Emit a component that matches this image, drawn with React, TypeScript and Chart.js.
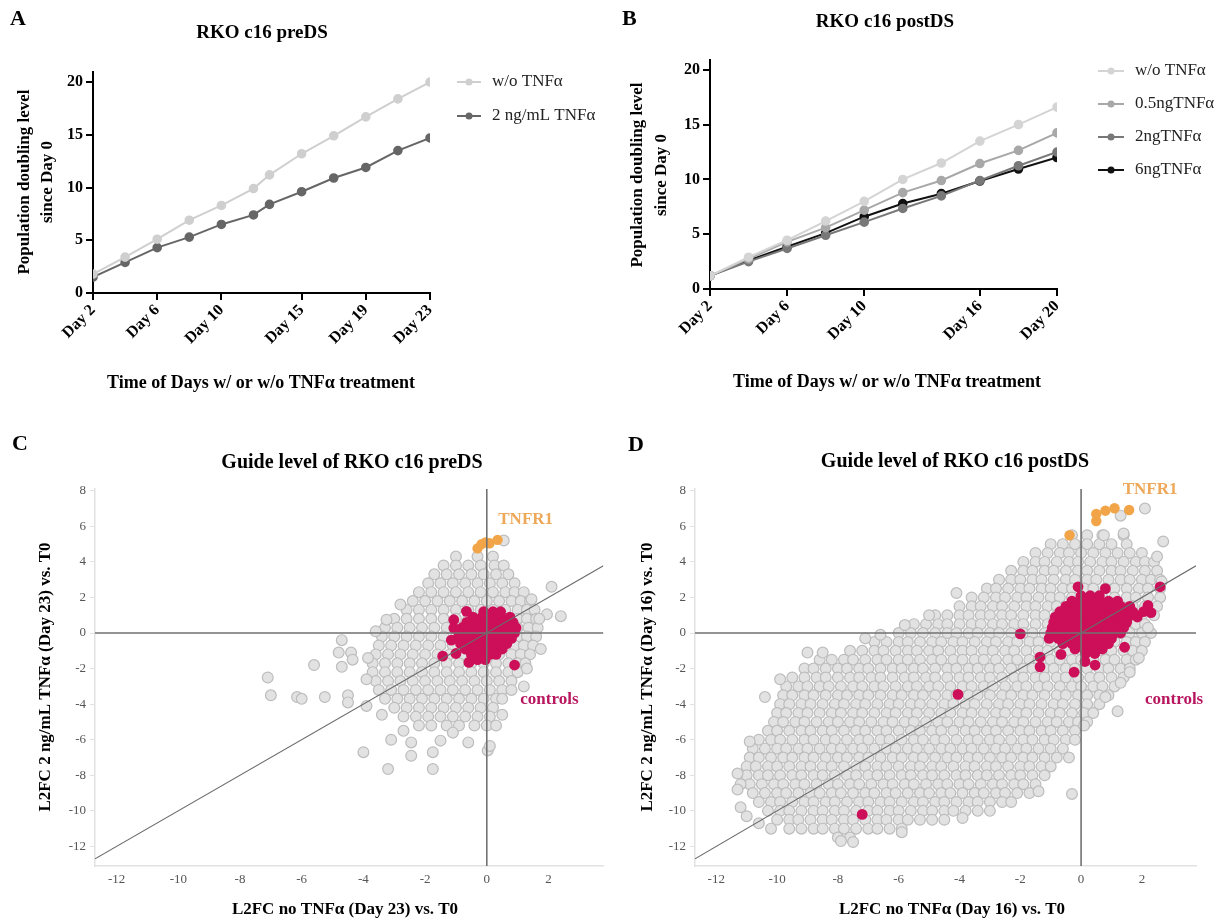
import React, { useEffect, useRef } from "react";
import { Chart, registerables } from "chart.js";

Chart.register(...registerables);

const SERIF = "'Liberation Serif', 'Times New Roman', Times, serif";

// ---------- Panel A: RKO c16 preDS ----------
const A_DAYS = [2, 4, 6, 8, 10, 12, 13, 15, 17, 19, 21, 23];
const A_NO_TNF = [1.8, 3.4, 5.1, 6.9, 8.3, 9.9, 11.2, 13.2, 14.9, 16.7, 18.4, 20.0];
const A_TNF_2NG = [1.5, 2.9, 4.3, 5.3, 6.5, 7.4, 8.4, 9.6, 10.9, 11.9, 13.5, 14.7];
const A_X_TICKS = [2, 6, 10, 15, 19, 23];
const A_LABELS = ["w/o TNFα", "2 ng/mL TNFα"];

// ---------- Panel B: RKO c16 postDS ----------
const B_DAYS = [2, 4, 6, 8, 10, 12, 14, 16, 18, 20];
const B_NO_TNF = [1.2, 2.9, 4.45, 6.2, 8.0, 10.0, 11.5, 13.5, 15.0, 16.6];
const B_TNF_05NG = [1.2, 2.75, 4.3, 5.6, 7.2, 8.8, 9.9, 11.45, 12.65, 14.25];
const B_TNF_2NG = [1.2, 2.5, 3.7, 4.9, 6.1, 7.35, 8.5, 9.9, 11.25, 12.5];
const B_TNF_6NG = [1.2, 2.6, 3.85, 5.1, 6.6, 7.8, 8.7, 9.85, 10.95, 12.0];
const B_X_TICKS = [2, 6, 10, 16, 20];
const B_LABELS = ["w/o TNFα", "0.5ngTNFα", "2ngTNFα", "6ngTNFα"];

const PDL_Y_TICKS = [0, 5, 10, 15, 20];

// ---------- Panels C / D: guide level L2FC ----------
const L2FC_X_TICKS = [-12, -10, -8, -6, -4, -2, 0, 2];
const L2FC_Y_TICKS = [-12, -10, -8, -6, -4, -2, 0, 2, 4, 6, 8];

// C: all guides (rows of the dense cloud: [y, x values])
const C_GUIDE_ROWS: [number, number[]][] = [
  [4.3, [-1.0, -0.3, 0.2]],
  [3.8, [-1.4, -1.0, -0.6, -0.2, 0.25, 0.55]],
  [3.3, [-1.7, -1.3, -0.9, -0.5, -0.1, 0.3, 0.7]],
  [2.8, [-1.9, -1.5, -1.1, -0.7, -0.3, 0.1, 0.5, 0.9]],
  [2.3, [-2.2, -1.8, -1.4, -1.0, -0.6, -0.2, 0.2, 0.6, 0.9, 1.2]],
  [1.8, [-2.4, -2.0, -1.6, -1.2, -0.8, -0.4, 0.0, 0.4, 0.8, 1.1, 1.4]],
  [1.3, [-2.6, -2.2, -1.8, -1.4, -1.0, -0.6, -0.2, 0.2, 0.6, 1.0, 1.3, 1.55]],
  [0.8, [-3.0, -2.6, -2.2, -1.8, -1.4, -1.0, -0.6, -0.2, 0.2, 0.6, 1.0, 1.3, 1.6]],
  [0.3, [-3.3, -2.9, -2.5, -2.1, -1.7, -1.3, -0.9, -0.5, -0.1, 0.3, 0.7, 1.0, 1.35, 1.65]],
  [-0.2, [-3.4, -3.0, -2.6, -2.2, -1.8, -1.4, -1.0, -0.6, -0.2, 0.2, 0.6, 1.0, 1.3, 1.6]],
  [-0.7, [-3.5, -3.1, -2.7, -2.3, -1.9, -1.5, -1.1, -0.7, -0.3, 0.1, 0.5, 0.9, 1.2, 1.5]],
  [-1.2, [-3.6, -3.2, -2.8, -2.4, -2.0, -1.6, -1.2, -0.8, -0.4, 0.0, 0.4, 0.8, 1.1, 1.4]],
  [-1.7, [-3.7, -3.3, -2.9, -2.5, -2.1, -1.7, -1.3, -0.9, -0.5, -0.1, 0.3, 0.7, 1.0, 1.25]],
  [-2.2, [-3.7, -3.3, -2.9, -2.5, -2.1, -1.7, -1.3, -0.9, -0.5, -0.1, 0.3, 0.7, 1.0]],
  [-2.7, [-3.6, -3.2, -2.8, -2.4, -2.0, -1.6, -1.2, -0.8, -0.4, 0.0, 0.4, 0.8]],
  [-3.2, [-3.5, -3.1, -2.7, -2.3, -1.9, -1.5, -1.1, -0.7, -0.3, 0.1, 0.5, 0.8]],
  [-3.7, [-3.3, -2.9, -2.5, -2.1, -1.7, -1.3, -0.9, -0.5, -0.1, 0.3, 0.5]],
  [-4.2, [-3.0, -2.6, -2.2, -1.8, -1.4, -1.0, -0.6, -0.2, 0.2]],
  [-4.7, [-2.7, -2.3, -1.9, -1.5, -1.1, -0.7, -0.3, 0.1]],
  [-5.2, [-2.2, -1.8, -1.3, -0.9, -0.4, 0.0, 0.3]],
];
const C_GUIDE_OUTLIERS: [number, number][] = [
  [2.1, 2.6], [1.95, 1.05], [2.4, 0.95], [1.2, -3.0], [0.5, -4.6], [1.75, -0.9], [1.3, -2.0],
  [-3.25, 0.75], [0.55, 5.2], [-4.7, -0.4], [-4.8, -1.1], [-4.4, -1.1], [-5.6, -1.8],
  [-4.7, -1.9], [-4.35, -1.5], [-7.1, -2.5], [-7.0, -3.5], [-6.15, -3.6], [-6.0, -3.7],
  [-5.25, -3.6], [-4.5, -3.5], [-4.5, -3.9], [-4.0, -6.7], [-3.2, -7.65], [-3.1, -6.0],
  [-2.45, -6.15], [-2.45, -6.9], [-1.75, -6.7], [-1.75, -7.65], [-1.5, -6.05], [-0.6, -6.15],
  [0.03, -6.6], [0.1, -6.35], [-3.9, -4.1], [-3.4, -4.6], [-2.7, -5.5], [-1.1, -5.6],
  [-3.9, -2.6], [-3.85, -1.4], [-3.6, 0.1], [-2.8, 1.6], [1.45, 1.9], [1.7, 0.8],
];
const C_CONTROL_ROWS: [number, number[]][] = [
  [1.2, [-0.1, 0.2, 0.45]],
  [0.9, [-0.45, -0.15, 0.15, 0.45, 0.75]],
  [0.6, [-0.65, -0.35, -0.05, 0.25, 0.55, 0.85]],
  [0.3, [-0.8, -0.5, -0.2, 0.1, 0.4, 0.7, 0.95]],
  [0.0, [-0.9, -0.6, -0.3, 0.0, 0.3, 0.6, 0.9]],
  [-0.3, [-0.95, -0.65, -0.35, -0.05, 0.25, 0.55, 0.8]],
  [-0.6, [-0.85, -0.55, -0.25, 0.05, 0.35, 0.65]],
  [-0.9, [-0.7, -0.4, -0.1, 0.2, 0.5]],
  [-1.2, [-0.5, -0.2, 0.1, 0.3]],
  [-1.5, [-0.3, -0.05]],
];
const C_CONTROL_OUTLIERS: [number, number][] = [
  [-0.66, 1.22], [-1.07, 0.75], [-1.07, 0.28], [-1.15, -0.4], [-1.43, -1.3],
  [-1.0, -1.15], [-0.58, -1.65], [0.9, -1.8],
];
const C_TNFR1: [number, number][] = [
  [-0.3, 4.76], [-0.17, 5.0], [-0.04, 5.1], [0.09, 5.05], [0.35, 5.24],
];

// D: all guides
const D_GUIDE_ROWS: [number, number[]][] = [
  [5.5, [-0.3, 0.2, 0.7, 1.4]],
  [5.0, [-1.0, -0.6, -0.2, 0.2, 0.6, 1.0, 1.5]],
  [4.5, [-1.5, -1.1, -0.7, -0.4, 0.0, 0.4, 0.8, 1.2, 1.6, 2.0]],
  [4.0, [-1.9, -1.5, -1.2, -0.8, -0.4, -0.1, 0.3, 0.7, 1.0, 1.4, 1.8, 2.1, 2.4]],
  [3.5, [-2.3, -1.9, -1.6, -1.2, -0.9, -0.5, -0.1, 0.2, 0.6, 1.0, 1.3, 1.7, 2.1, 2.5]],
  [3.0, [-2.7, -2.3, -2.0, -1.6, -1.3, -0.9, -0.5, -0.2, 0.2, 0.5, 0.9, 1.3, 1.6, 2.0, 2.3, 2.6]],
  [2.5, [-3.1, -2.8, -2.4, -2.0, -1.7, -1.3, -1.0, -0.6, -0.3, 0.1, 0.4, 0.8, 1.1, 1.5, 1.9, 2.2, 2.6]],
  [2.0, [-3.6, -3.2, -2.8, -2.5, -2.1, -1.8, -1.4, -1.0, -0.7, -0.3, 0.0, 0.4, 0.7, 1.1, 1.5, 1.8, 2.2, 2.6]],
  [1.5, [-4.0, -3.6, -3.3, -2.9, -2.6, -2.2, -1.8, -1.5, -1.1, -0.8, -0.4, -0.1, 0.3, 0.6, 1.0, 1.3, 1.7, 2.1, 2.5]],
  [1.0, [-4.8, -4.4, -4.0, -3.7, -3.3, -3.0, -2.6, -2.3, -1.9, -1.5, -1.2, -0.8, -0.5, -0.1, 0.2, 0.6, 0.9, 1.3, 1.7, 2.0, 2.4]],
  [0.5, [-5.5, -5.1, -4.7, -4.4, -4.0, -3.6, -3.3, -2.9, -2.6, -2.2, -1.9, -1.5, -1.1, -0.8, -0.4, -0.1, 0.3, 0.7, 1.0, 1.4, 1.8, 2.1]],
  [0.0, [-6.0, -5.6, -5.2, -4.8, -4.4, -4.1, -3.7, -3.4, -3.0, -2.7, -2.3, -1.9, -1.6, -1.2, -0.9, -0.5, -0.2, 0.2, 0.5, 0.9, 1.3, 1.6, 2.0, 2.3]],
  [-0.5, [-6.8, -6.4, -6.0, -5.7, -5.3, -4.9, -4.6, -4.2, -3.9, -3.5, -3.1, -2.8, -2.4, -2.1, -1.7, -1.4, -1.0, -0.6, -0.3, 0.1, 0.4, 0.8, 1.1, 1.5, 1.8, 2.1]],
  [-1.0, [-7.6, -7.2, -6.8, -6.5, -6.1, -5.7, -5.4, -5.0, -4.7, -4.3, -3.9, -3.6, -3.2, -2.9, -2.5, -2.2, -1.8, -1.4, -1.1, -0.7, -0.4, 0.0, 0.3, 0.7, 1.0, 1.4, 1.7, 2.0]],
  [-1.5, [-8.6, -8.2, -7.8, -7.5, -7.1, -6.7, -6.4, -6.0, -5.7, -5.3, -4.9, -4.6, -4.2, -3.9, -3.5, -3.2, -2.8, -2.4, -2.1, -1.7, -1.4, -1.0, -0.7, -0.3, 0.0, 0.4, 0.8, 1.1, 1.5, 1.8]],
  [-2.0, [-9.1, -8.8, -8.4, -8.0, -7.7, -7.3, -7.0, -6.6, -6.2, -5.9, -5.5, -5.2, -4.8, -4.4, -4.1, -3.7, -3.4, -3.0, -2.7, -2.3, -1.9, -1.6, -1.2, -0.9, -0.5, -0.2, 0.2, 0.6, 0.9, 1.3, 1.6]],
  [-2.5, [-9.5, -9.1, -8.7, -8.4, -8.0, -7.6, -7.3, -6.9, -6.6, -6.2, -5.8, -5.5, -5.1, -4.8, -4.4, -4.0, -3.7, -3.3, -3.0, -2.6, -2.2, -1.9, -1.5, -1.2, -0.8, -0.5, -0.1, 0.3, 0.6, 1.0, 1.4]],
  [-3.0, [-9.7, -9.3, -9.0, -8.6, -8.3, -7.9, -7.5, -7.2, -6.8, -6.5, -6.1, -5.7, -5.4, -5.0, -4.7, -4.3, -3.9, -3.6, -3.2, -2.9, -2.5, -2.1, -1.8, -1.4, -1.1, -0.7, -0.3, 0.0, 0.4, 0.7, 1.1]],
  [-3.5, [-9.8, -9.5, -9.1, -8.8, -8.4, -8.0, -7.7, -7.3, -7.0, -6.6, -6.2, -5.9, -5.5, -5.2, -4.8, -4.4, -4.1, -3.7, -3.4, -3.0, -2.6, -2.3, -1.9, -1.6, -1.2, -0.8, -0.5, -0.1, 0.2, 0.6, 0.9]],
  [-4.0, [-9.9, -9.6, -9.2, -8.9, -8.5, -8.1, -7.8, -7.4, -7.1, -6.7, -6.3, -6.0, -5.6, -5.3, -4.9, -4.5, -4.2, -3.8, -3.5, -3.1, -2.7, -2.4, -2.0, -1.7, -1.3, -0.9, -0.6, -0.2, 0.2, 0.6]],
  [-4.5, [-10.0, -9.7, -9.3, -9.0, -8.6, -8.2, -7.9, -7.5, -7.2, -6.8, -6.4, -6.1, -5.7, -5.4, -5.0, -4.6, -4.3, -3.9, -3.6, -3.2, -2.8, -2.5, -2.1, -1.8, -1.4, -1.0, -0.7, -0.3, 0.1, 0.4]],
  [-5.0, [-10.1, -9.8, -9.4, -9.1, -8.7, -8.3, -8.0, -7.6, -7.3, -6.9, -6.5, -6.2, -5.8, -5.5, -5.1, -4.7, -4.4, -4.0, -3.7, -3.3, -2.9, -2.6, -2.2, -1.9, -1.5, -1.1, -0.8, -0.4, -0.1, 0.2]],
  [-5.5, [-10.3, -10.0, -9.6, -9.2, -8.9, -8.5, -8.2, -7.8, -7.4, -7.1, -6.7, -6.4, -6.0, -5.6, -5.3, -4.9, -4.6, -4.2, -3.8, -3.5, -3.1, -2.8, -2.4, -2.0, -1.7, -1.3, -1.0, -0.6, -0.2]],
  [-6.0, [-10.6, -10.2, -9.9, -9.5, -9.1, -8.8, -8.4, -8.1, -7.7, -7.3, -7.0, -6.6, -6.3, -5.9, -5.5, -5.2, -4.8, -4.5, -4.1, -3.7, -3.4, -3.0, -2.7, -2.3, -1.9, -1.6, -1.2, -0.9, -0.5, -0.2]],
  [-6.5, [-10.8, -10.4, -10.0, -9.7, -9.3, -9.0, -8.6, -8.2, -7.9, -7.5, -7.2, -6.8, -6.4, -6.1, -5.7, -5.4, -5.0, -4.6, -4.3, -3.9, -3.6, -3.2, -2.8, -2.5, -2.1, -1.8, -1.4, -1.0, -0.6]],
  [-7.0, [-10.9, -10.6, -10.2, -9.8, -9.5, -9.1, -8.8, -8.4, -8.0, -7.7, -7.3, -7.0, -6.6, -6.2, -5.9, -5.5, -5.2, -4.8, -4.4, -4.1, -3.7, -3.4, -3.0, -2.6, -2.3, -1.9, -1.6, -1.2, -0.8]],
  [-7.5, [-11.0, -10.7, -10.3, -10.0, -9.6, -9.2, -8.9, -8.5, -8.2, -7.8, -7.4, -7.1, -6.7, -6.4, -6.0, -5.6, -5.3, -4.9, -4.6, -4.2, -3.8, -3.5, -3.1, -2.8, -2.4, -2.0, -1.7, -1.3, -1.0]],
  [-8.0, [-11.0, -10.6, -10.3, -9.9, -9.5, -9.2, -8.8, -8.5, -8.1, -7.7, -7.4, -7.0, -6.7, -6.3, -5.9, -5.6, -5.2, -4.9, -4.5, -4.1, -3.8, -3.4, -3.1, -2.7, -2.3, -2.0, -1.6, -1.2]],
  [-8.5, [-10.9, -10.5, -10.1, -9.8, -9.4, -9.1, -8.7, -8.3, -8.0, -7.6, -7.3, -6.9, -6.5, -6.2, -5.8, -5.5, -5.1, -4.7, -4.4, -4.0, -3.7, -3.3, -2.9, -2.6, -2.2, -1.9, -1.5]],
  [-9.0, [-10.8, -10.4, -10.0, -9.7, -9.3, -8.9, -8.6, -8.2, -7.9, -7.5, -7.1, -6.8, -6.4, -6.1, -5.7, -5.3, -5.0, -4.6, -4.3, -3.9, -3.5, -3.2, -2.8, -2.5, -2.1, -1.7]],
  [-9.5, [-10.6, -10.2, -9.9, -9.5, -9.1, -8.8, -8.4, -8.1, -7.7, -7.3, -7.0, -6.6, -6.3, -5.9, -5.5, -5.2, -4.8, -4.5, -4.1, -3.7, -3.4, -3.0, -2.6, -2.3]],
  [-10.0, [-10.3, -9.9, -9.6, -9.2, -8.8, -8.5, -8.1, -7.8, -7.4, -7.0, -6.7, -6.3, -6.0, -5.6, -5.2, -4.9, -4.5, -4.2, -3.8, -3.4, -3.0]],
  [-10.5, [-10.0, -9.6, -9.3, -8.9, -8.5, -8.2, -7.8, -7.5, -7.1, -6.7, -6.4, -6.0, -5.7, -5.3, -4.9, -4.5]],
  [-11.0, [-9.6, -9.2, -8.8, -8.5, -8.1, -7.8, -7.4, -7.0, -6.7, -6.3, -5.9]],
  [-11.5, [-8.0, -7.6]],
];
const D_GUIDE_OUTLIERS: [number, number][] = [
  [-11.3, -7.9], [-11.2, -8.5], [-11.3, -8.8], [-10.9, -6.1], [-10.4, -3.6], [-9.9, -2.6],
  [-9.0, -1.1], [-8.5, -1.1], [-7.1, -0.3], [-6.6, -0.1], [-5.8, 0.45], [-5.0, 1.0],
  [-4.1, 2.25], [1.4, 5.6], [2.7, 5.15], [2.1, 7.0], [1.3, 6.6], [2.5, 4.3], [0.75, 5.5],
  [2.65, 2.9], [2.2, 0.3], [1.9, -1.4], [1.6, -2.2], [1.3, -2.8], [1.2, -4.4], [0.8, -3.6],
  [0.1, -5.2], [-0.4, -7.0], [-0.3, -9.05], [-1.4, -8.9], [-7.9, -11.7], [-7.5, -11.75],
  [-5.9, -11.2], [-3.9, -10.4], [-11.2, -9.8], [-11.0, -10.3], [-10.6, -10.7], [-10.2, -11.0],
];
const D_CONTROL_ROWS: [number, number[]][] = [
  [2.1, [0.0, 0.3, 0.6]],
  [1.8, [-0.3, 0.0, 0.3, 0.6, 0.9, 1.2]],
  [1.5, [-0.5, -0.2, 0.1, 0.4, 0.7, 1.0, 1.3, 1.6]],
  [1.2, [-0.7, -0.4, -0.1, 0.2, 0.5, 0.8, 1.1, 1.4, 1.7]],
  [0.9, [-0.85, -0.55, -0.25, 0.05, 0.35, 0.65, 0.95, 1.25, 1.55, 1.85]],
  [0.6, [-0.9, -0.6, -0.3, 0.0, 0.3, 0.6, 0.9, 1.2, 1.5]],
  [0.3, [-0.95, -0.65, -0.35, -0.05, 0.25, 0.55, 0.85, 1.15, 1.4]],
  [0.0, [-1.0, -0.7, -0.4, -0.1, 0.2, 0.5, 0.8, 1.1, 1.3]],
  [-0.3, [-1.05, -0.75, -0.45, -0.15, 0.15, 0.45, 0.75, 1.0]],
  [-0.6, [-0.6, -0.3, 0.0, 0.3, 0.6, 0.9]],
  [-0.9, [-0.2, 0.1, 0.4, 0.7]],
  [-1.15, [0.15, 0.45]],
];
const D_CONTROL_OUTLIERS: [number, number][] = [
  [-0.1, 2.6], [0.8, 2.5], [2.6, 2.6], [2.2, 1.55], [2.3, 1.15], [2.05, 1.2],
  [-2.0, -0.05], [-1.35, -1.35], [-1.35, -1.9], [-0.66, -1.2], [-0.23, -2.2],
  [0.13, -1.6], [0.46, -1.8], [1.43, -0.8], [-4.05, -3.45], [-7.2, -10.2],
];
const D_TNFR1: [number, number][] = [
  [-0.38, 5.5], [0.5, 6.3], [0.5, 6.7], [0.8, 6.88], [1.1, 7.02], [1.58, 6.92],
];

// ---------- helpers ----------
const rowsToPoints = (rows: [number, number[]][]) =>
  rows.flatMap(([y, xs]) => xs.map((x) => ({ x, y })));
const pairsToPoints = (pairs: [number, number][]) => pairs.map(([x, y]) => ({ x, y }));
const seriesPoints = (xs: number[], ys: number[]) => xs.map((x, i) => ({ x, y: ys[i] }));

function drawText(ctx: any, t: any) {
  ctx.save();
  ctx.font = `${t.weight || "normal"} ${t.size}px ${SERIF}`;
  ctx.fillStyle = t.color || "#000";
  ctx.textAlign = t.align || "center";
  ctx.textBaseline = "middle";
  ctx.translate(t.x, t.y);
  if (t.rotate) ctx.rotate(t.rotate);
  ctx.fillText(t.text, 0, 0);
  ctx.restore();
}

function overlay(cfg: any) {
  return {
    id: "overlay" + Math.random().toString(36).slice(2),
    afterDatasetsDraw(chart: any) {
      if (!cfg.refLines) return;
      const { ctx, chartArea: a, scales } = chart;
      const xs = scales.x;
      const ys = scales.y;
      ctx.save();
      ctx.beginPath();
      ctx.rect(a.left, a.top, a.right - a.left, a.bottom - a.top);
      ctx.clip();
      ctx.strokeStyle = "#727272";
      ctx.lineWidth = 1.6;
      const x0 = xs.getPixelForValue(0);
      const y0 = ys.getPixelForValue(0);
      ctx.beginPath();
      ctx.moveTo(x0, a.top);
      ctx.lineTo(x0, a.bottom);
      ctx.moveTo(a.left, y0);
      ctx.lineTo(a.right, y0);
      ctx.stroke();
      ctx.strokeStyle = "#6a6a6a";
      ctx.lineWidth = 1.1;
      ctx.beginPath();
      ctx.moveTo(xs.getPixelForValue(xs.min), ys.getPixelForValue(xs.min));
      ctx.lineTo(xs.getPixelForValue(xs.max), ys.getPixelForValue(xs.max));
      ctx.stroke();
      ctx.restore();
    },
    afterDraw(chart: any) {
      const { ctx, scales } = chart;
      (cfg.texts || []).forEach((t: any) => drawText(ctx, t));
      (cfg.notes || []).forEach((n: any) =>
        drawText(ctx, { ...n, x: scales.x.getPixelForValue(n.vx), y: scales.y.getPixelForValue(n.vy) })
      );
      if (cfg.legend) {
        const L = cfg.legend;
        chart.data.datasets.forEach((ds: any, i: number) => {
          const y = L.ys[i];
          ctx.save();
          ctx.strokeStyle = ds.borderColor;
          ctx.lineWidth = 2;
          ctx.beginPath();
          ctx.moveTo(L.x1, y);
          ctx.lineTo(L.x2, y);
          ctx.stroke();
          ctx.fillStyle = ds.borderColor;
          ctx.beginPath();
          ctx.arc((L.x1 + L.x2) / 2, y, 3.5, 0, Math.PI * 2);
          ctx.fill();
          ctx.restore();
          drawText(ctx, { text: ds.label, x: L.textX, y, size: L.size, color: "#222", align: "left" });
        });
      }
    },
  };
}

function pdlScales(xMin: number, xMax: number, xTicks: number[], yMax: number, yWidth: number, xHeight: number) {
  const font = { family: SERIF, size: 16, weight: "bold" };
  const grid = { display: true, drawOnChartArea: false, drawTicks: true, tickLength: 7, color: "#000", lineWidth: 2 };
  const border = { display: true, color: "#000", width: 2 };
  return {
    x: {
      type: "linear", min: xMin, max: xMax,
      afterBuildTicks: (s: any) => { s.ticks = xTicks.map((v) => ({ value: v })); },
      ticks: { autoSkip: false, maxRotation: 45, minRotation: 45, color: "#000", font, padding: 1, callback: (v: any) => "Day " + v },
      grid, border,
      afterFit: (s: any) => { s.height = xHeight; },
    },
    y: {
      type: "linear", min: 0, max: yMax,
      afterBuildTicks: (s: any) => { s.ticks = PDL_Y_TICKS.map((v) => ({ value: v })); },
      ticks: { color: "#000", font, padding: 3, callback: (v: any) => String(v) },
      grid, border,
      afterFit: (s: any) => { s.width = yWidth; },
    },
  };
}

function l2fcScales(yWidth: number, xHeight: number) {
  const font = { family: SERIF, size: 13 };
  return {
    x: {
      type: "linear", min: -12.7, max: 3.78,
      afterBuildTicks: (s: any) => { s.ticks = L2FC_X_TICKS.map((v) => ({ value: v })); },
      ticks: { autoSkip: false, maxRotation: 0, color: "#555", font, padding: 6, callback: (v: any) => String(v) },
      grid: { display: true, drawOnChartArea: false, drawTicks: false },
      border: { display: true, color: "#e2e2e2", width: 1.5 },
      afterFit: (s: any) => { s.height = xHeight; },
    },
    y: {
      type: "linear", min: -13.1, max: 8.1,
      afterBuildTicks: (s: any) => { s.ticks = L2FC_Y_TICKS.map((v) => ({ value: v })); },
      ticks: { autoSkip: false, color: "#555", font, padding: 4, callback: (v: any) => String(v) },
      grid: { display: true, drawOnChartArea: false, drawTicks: true, tickLength: 5, color: "#e2e2e2", lineWidth: 1 },
      border: { display: true, color: "#e2e2e2", width: 1.5 },
      afterFit: (s: any) => { s.width = yWidth; },
    },
  };
}

const lineDs = (label: string, xs: number[], ys: number[], color: string) => ({
  label, data: seriesPoints(xs, ys), borderColor: color, backgroundColor: color,
  pointBackgroundColor: color, pointBorderColor: color, borderWidth: 2, pointRadius: 3.8, tension: 0,
});

const scatterDs = (data: any[], fill: string, border: string, bw: number, radius: number, order: number) => ({
  data, backgroundColor: fill, borderColor: border, borderWidth: bw, pointRadius: radius, order,
});

const baseOpts = {
  animation: false, responsive: false, maintainAspectRatio: false, events: [],
};

function buildA() {
  return {
    type: "line",
    data: {
      datasets: [
        lineDs(A_LABELS[0], A_DAYS, A_NO_TNF, "#cfcfcf"),
        lineDs(A_LABELS[1], A_DAYS, A_TNF_2NG, "#666666"),
      ],
    },
    options: {
      ...baseOpts,
      layout: { padding: { left: 0, top: 72, right: 180, bottom: 0 } },
      plugins: { legend: { display: false }, tooltip: { enabled: false } },
      scales: pdlScales(2, 23, A_X_TICKS, 20.95, 93, 127),
    },
    plugins: [overlay({
      texts: [
        { text: "A", x: 10, y: 19, size: 22, weight: "bold", align: "left" },
        { text: "RKO c16 preDS", x: 262, y: 33, size: 19, weight: "bold" },
        { text: "Population doubling level", x: 25, y: 182, size: 17, weight: "bold", rotate: -Math.PI / 2 },
        { text: "since Day 0", x: 48, y: 182, size: 17, weight: "bold", rotate: -Math.PI / 2 },
        { text: "Time of Days w/ or w/o TNFα treatment", x: 261, y: 383, size: 18, weight: "bold" },
      ],
      legend: { x1: 457, x2: 481, textX: 492, ys: [82, 116], size: 17 },
    })],
  };
}

function buildB() {
  return {
    type: "line",
    data: {
      datasets: [
        lineDs(B_LABELS[0], B_DAYS, B_NO_TNF, "#d4d4d4"),
        lineDs(B_LABELS[1], B_DAYS, B_TNF_05NG, "#a8a8a8"),
        lineDs(B_LABELS[2], B_DAYS, B_TNF_2NG, "#787878"),
        lineDs(B_LABELS[3], B_DAYS, B_TNF_6NG, "#111111"),
      ],
    },
    options: {
      ...baseOpts,
      layout: { padding: { left: 0, top: 60, right: 164, bottom: 0 } },
      plugins: { legend: { display: false }, tooltip: { enabled: false } },
      scales: pdlScales(2, 20, B_X_TICKS, 20.9, 100, 131),
    },
    plugins: [overlay({
      texts: [
        { text: "B", x: 12, y: 19, size: 22, weight: "bold", align: "left" },
        { text: "RKO c16 postDS", x: 275, y: 22, size: 19, weight: "bold" },
        { text: "Population doubling level", x: 28, y: 175, size: 17, weight: "bold", rotate: -Math.PI / 2 },
        { text: "since Day 0", x: 52, y: 175, size: 17, weight: "bold", rotate: -Math.PI / 2 },
        { text: "Time of Days w/ or w/o TNFα treatment", x: 277, y: 382, size: 18, weight: "bold" },
      ],
      legend: { x1: 488, x2: 514, textX: 525, ys: [71, 104, 137, 170], size: 17 },
    })],
  };
}

function buildScatter(p: any) {
  return {
    type: "scatter",
    data: {
      datasets: [
        scatterDs(p.tnfr1, "#f2a548", "#f2a548", 0, 5.2, 1),
        scatterDs(p.controls, "#cc0f58", "#cc0f58", 0, 5.4, 2),
        scatterDs(p.guides, "#e2e2e2", "#bdbdbd", 1.2, 5.4, 3),
      ],
    },
    options: {
      ...baseOpts,
      layout: { padding: { left: 0, top: 69, right: p.padRight, bottom: 0 } },
      plugins: { legend: { display: false }, tooltip: { enabled: false } },
      scales: l2fcScales(p.yWidth, 58),
    },
    plugins: [overlay({
      refLines: true,
      texts: p.texts,
      notes: p.notes,
    })],
  };
}

function buildC() {
  return buildScatter({
    tnfr1: pairsToPoints(C_TNFR1),
    controls: [...rowsToPoints(C_CONTROL_ROWS), ...pairsToPoints(C_CONTROL_OUTLIERS)],
    guides: [...rowsToPoints(C_GUIDE_ROWS), ...pairsToPoints(C_GUIDE_OUTLIERS)],
    padRight: 2,
    yWidth: 95,
    texts: [
      { text: "C", x: 12, y: 24, size: 22, weight: "bold", align: "left" },
      { text: "Guide level of RKO c16 preDS", x: 352, y: 43, size: 20, weight: "bold" },
      { text: "L2FC 2 ng/mL TNFα (Day 23) vs. T0", x: 46, y: 257, size: 17, weight: "bold", rotate: -Math.PI / 2 },
      { text: "L2FC no TNFα (Day 23) vs. T0", x: 345, y: 490, size: 17, weight: "bold" },
    ],
    notes: [
      { text: "TNFR1", vx: 1.26, vy: 6.37, size: 17, weight: "bold", color: "#eea85a" },
      { text: "controls", vx: 2.03, vy: -3.77, size: 17, weight: "bold", color: "#b8175f" },
    ],
  });
}

function buildD() {
  return buildScatter({
    tnfr1: pairsToPoints(D_TNFR1),
    controls: [...rowsToPoints(D_CONTROL_ROWS), ...pairsToPoints(D_CONTROL_OUTLIERS)],
    guides: [...rowsToPoints(D_GUIDE_ROWS), ...pairsToPoints(D_GUIDE_OUTLIERS)],
    padRight: 25,
    yWidth: 85,
    texts: [
      { text: "D", x: 18, y: 25, size: 22, weight: "bold", align: "left" },
      { text: "Guide level of RKO c16 postDS", x: 345, y: 42, size: 20, weight: "bold" },
      { text: "L2FC 2 ng/mL TNFα (Day 16) vs. T0", x: 38, y: 257, size: 17, weight: "bold", rotate: -Math.PI / 2 },
      { text: "L2FC no TNFα (Day 16) vs. T0", x: 342, y: 490, size: 17, weight: "bold" },
    ],
    notes: [
      { text: "TNFR1", vx: 2.27, vy: 8.05, size: 17, weight: "bold", color: "#eea85a" },
      { text: "controls", vx: 3.06, vy: -3.77, size: 17, weight: "bold", color: "#b8175f" },
    ],
  });
}

function ChartPanel({ left, top, width, height, build }: any) {
  const ref = useRef<HTMLCanvasElement>(null);
  useEffect(() => {
    const chart = new Chart(ref.current as any, build() as any);
    return () => chart.destroy();
  }, []);
  return (
    <canvas
      ref={ref}
      width={width}
      height={height}
      style={{ position: "absolute", left, top, width, height, display: "block" }}
    />
  );
}

export default function App() {
  return (
    <div style={{ position: "absolute", left: 0, top: 0, width: 1221, height: 924, background: "#fff", overflow: "hidden" }}>
      <ChartPanel left={0} top={0} width={610} height={420} build={buildA} />
      <ChartPanel left={610} top={0} width={611} height={420} build={buildB} />
      <ChartPanel left={0} top={420} width={610} height={504} build={buildC} />
      <ChartPanel left={610} top={420} width={611} height={504} build={buildD} />
    </div>
  );
}
